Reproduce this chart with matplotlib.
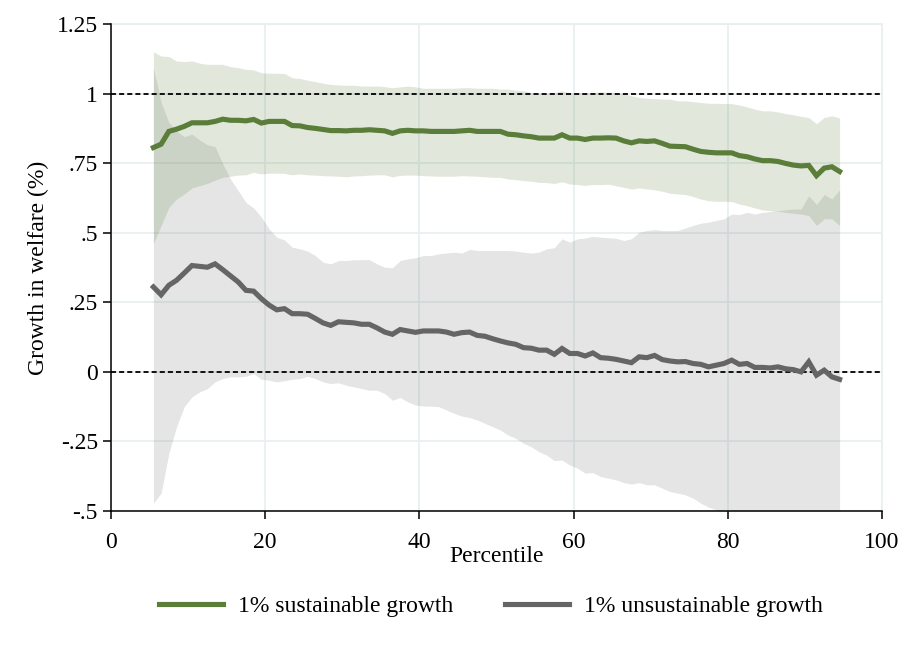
import numpy as np
import matplotlib
matplotlib.use("Agg")
import matplotlib.pyplot as plt
from matplotlib.lines import Line2D

# percentiles 5.5 ... 94.5
percentile = np.arange(5.5, 95.0, 1.0)

sust_mid = [
    0.806, 0.818, 0.864, 0.872, 0.882, 0.895, 0.895, 0.895, 0.900, 0.908,
    0.904, 0.904, 0.902, 0.907, 0.894, 0.900, 0.900, 0.900, 0.885, 0.884,
    0.878, 0.875, 0.871, 0.867, 0.867, 0.866, 0.868, 0.868, 0.870, 0.868,
    0.866, 0.857, 0.866, 0.868, 0.866, 0.866, 0.864, 0.864, 0.864, 0.864,
    0.866, 0.868, 0.864, 0.864, 0.864, 0.864, 0.854, 0.852, 0.848, 0.845,
    0.840, 0.840, 0.840, 0.852, 0.840, 0.840, 0.835, 0.840, 0.840, 0.841,
    0.840, 0.830, 0.823, 0.830, 0.828, 0.830, 0.821, 0.811, 0.810, 0.809,
    0.800, 0.792, 0.789, 0.787, 0.787, 0.787, 0.777, 0.773, 0.765, 0.759,
    0.759, 0.756, 0.749, 0.743, 0.740, 0.742, 0.705, 0.732, 0.737, 0.720,
]
sust_hi = [
    1.150, 1.135, 1.133, 1.117, 1.115, 1.117, 1.109, 1.105, 1.105, 1.105,
    1.097, 1.093, 1.087, 1.085, 1.075, 1.073, 1.073, 1.072, 1.057, 1.054,
    1.048, 1.043, 1.037, 1.033, 1.031, 1.030, 1.030, 1.027, 1.027, 1.027,
    1.025, 1.021, 1.024, 1.027, 1.024, 1.019, 1.019, 1.019, 1.019, 1.019,
    1.021, 1.021, 1.019, 1.019, 1.019, 1.016, 1.016, 1.012, 1.010, 1.004,
    1.001, 1.001, 1.004, 1.010, 1.002, 1.004, 1.002, 1.004, 1.006, 1.005,
    1.004, 1.000, 0.992, 0.986, 0.983, 0.982, 0.980, 0.980, 0.974, 0.974,
    0.971, 0.968, 0.965, 0.965, 0.964, 0.964, 0.959, 0.952, 0.944, 0.938,
    0.938, 0.934, 0.928, 0.924, 0.918, 0.914, 0.892, 0.914, 0.920, 0.912,
]
sust_lo = [
    0.460, 0.526, 0.591, 0.621, 0.639, 0.661, 0.669, 0.677, 0.689, 0.699,
    0.703, 0.707, 0.708, 0.717, 0.711, 0.714, 0.714, 0.713, 0.708, 0.711,
    0.708, 0.707, 0.705, 0.704, 0.703, 0.701, 0.704, 0.705, 0.707, 0.708,
    0.708, 0.701, 0.706, 0.707, 0.707, 0.705, 0.704, 0.703, 0.703, 0.703,
    0.705, 0.704, 0.703, 0.701, 0.699, 0.699, 0.693, 0.691, 0.687, 0.685,
    0.681, 0.680, 0.677, 0.683, 0.675, 0.673, 0.670, 0.673, 0.673, 0.674,
    0.669, 0.663, 0.657, 0.661, 0.657, 0.654, 0.649, 0.642, 0.639, 0.637,
    0.630, 0.621, 0.615, 0.613, 0.613, 0.612, 0.603, 0.597, 0.589, 0.582,
    0.579, 0.577, 0.573, 0.570, 0.567, 0.562, 0.526, 0.550, 0.550, 0.526,
]

unsust_mid = [
    0.305, 0.277, 0.311, 0.329, 0.355, 0.382, 0.379, 0.376, 0.388, 0.367,
    0.345, 0.323, 0.293, 0.290, 0.263, 0.240, 0.223, 0.227, 0.209, 0.209,
    0.207, 0.192, 0.176, 0.167, 0.180, 0.178, 0.176, 0.171, 0.171, 0.158,
    0.143, 0.135, 0.152, 0.147, 0.142, 0.147, 0.147, 0.147, 0.143, 0.135,
    0.141, 0.143, 0.131, 0.128, 0.119, 0.111, 0.104, 0.099, 0.087, 0.085,
    0.078, 0.078, 0.063, 0.084, 0.066, 0.066, 0.057, 0.068, 0.051, 0.049,
    0.045, 0.039, 0.033, 0.054, 0.051, 0.059, 0.044, 0.039, 0.036, 0.037,
    0.030, 0.027, 0.018, 0.024, 0.030, 0.042, 0.027, 0.030, 0.016, 0.016,
    0.014, 0.018, 0.011, 0.008, 0.000, 0.036, -0.012, 0.006, -0.018, -0.027,
]
unsust_hi = [
    1.093, 0.968, 0.896, 0.866, 0.845, 0.854, 0.833, 0.816, 0.809, 0.747,
    0.693, 0.651, 0.609, 0.589, 0.556, 0.514, 0.484, 0.474, 0.448, 0.442,
    0.434, 0.418, 0.394, 0.388, 0.400, 0.400, 0.403, 0.403, 0.403, 0.388,
    0.376, 0.374, 0.400, 0.406, 0.410, 0.418, 0.418, 0.424, 0.427, 0.430,
    0.427, 0.440, 0.436, 0.436, 0.436, 0.436, 0.436, 0.434, 0.430, 0.427,
    0.430, 0.442, 0.446, 0.478, 0.466, 0.478, 0.481, 0.487, 0.484, 0.482,
    0.480, 0.472, 0.478, 0.502, 0.508, 0.511, 0.508, 0.508, 0.508, 0.517,
    0.526, 0.534, 0.538, 0.544, 0.550, 0.567, 0.565, 0.573, 0.567, 0.573,
    0.576, 0.579, 0.582, 0.585, 0.585, 0.633, 0.601, 0.637, 0.621, 0.654,
]
# past ~p78 the lower bound runs off the bottom of the axis
unsust_lo = [
    -0.472, -0.436, -0.293, -0.197, -0.125, -0.090, -0.072, -0.060, -0.036, -0.024,
    -0.018, -0.018, -0.016, -0.006, -0.027, -0.030, -0.036, -0.032, -0.027, -0.024,
    -0.016, -0.024, -0.036, -0.042, -0.039, -0.048, -0.054, -0.060, -0.066, -0.066,
    -0.078, -0.102, -0.092, -0.108, -0.119, -0.123, -0.123, -0.125, -0.137, -0.149,
    -0.159, -0.164, -0.173, -0.185, -0.197, -0.209, -0.227, -0.239, -0.257, -0.269,
    -0.287, -0.299, -0.319, -0.317, -0.335, -0.346, -0.364, -0.362, -0.376, -0.382,
    -0.388, -0.398, -0.403, -0.398, -0.406, -0.406, -0.418, -0.430, -0.436, -0.442,
    -0.454, -0.472, -0.486, -0.496, -0.512, -0.521, -0.535, -0.541, -0.556, -0.562,
    -0.571, -0.583, -0.592, -0.604, -0.611, -0.622, -0.633, -0.640, -0.652, -0.661,
]

xticks = [0, 20, 40, 60, 80, 100]
yticks = [-0.5, -0.25, 0, 0.25, 0.5, 0.75, 1, 1.25]
ytick_labels = ["-.5", "-.25", "0", ".25", ".5", ".75", "1", "1.25"]

GREEN = "#5a7d3a"
GREY = "#656565"
GRID = "#e8eff1"

plt.rcParams["font.family"] = ["Liberation Serif", "DejaVu Serif"]
FS = 17

fig = plt.figure(figsize=(9.07, 6.60), dpi=100)
ax = fig.add_axes([111 / 907, 1 - 511 / 660, 771 / 907, 487 / 660])

ax.fill_between(percentile, unsust_lo, unsust_hi, color=GREY, alpha=0.17, lw=0)
ax.fill_between(percentile, sust_lo, sust_hi, color=GREEN, alpha=0.18, lw=0)

ax.axhline(1, color="black", lw=1.3, ls=(0, (2.8, 1.7)), zorder=2)
ax.axhline(0, color="black", lw=1.3, ls=(0, (2.8, 1.7)), zorder=2)

ax.plot(percentile, sust_mid, color=GREEN, lw=3.7, solid_joinstyle="miter", zorder=3)
ax.plot(percentile, unsust_mid, color=GREY, lw=3.7, solid_joinstyle="miter", zorder=3)

ax.set_xlim(0, 100)
ax.set_ylim(-0.5, 1.25)
ax.set_xticks(xticks)
ax.set_yticks(yticks)
ax.set_yticklabels(ytick_labels)
ax.grid(True, color=GRID, lw=1.2, zorder=0)
ax.set_axisbelow(True)

for s in ["top", "right"]:
    ax.spines[s].set_visible(False)
for s in ["left", "bottom"]:
    ax.spines[s].set_linewidth(1.1)
ax.tick_params(axis="both", labelsize=FS, length=6, width=1.1, direction="out")
ax.tick_params(axis="x", pad=9)
ax.tick_params(axis="y", pad=3.5)

# top / right edge are plain grid lines
ax.axhline(1.25, color=GRID, lw=1.2, zorder=0, clip_on=False)
ax.axvline(100, color=GRID, lw=1.2, zorder=0, clip_on=False)

ax.set_xlabel("Percentile", fontsize=FS, va="center")
ax.xaxis.set_label_coords(0.5, (511 - 557) / 487)
ax.set_ylabel("Growth in welfare (%)", fontsize=FS, va="center")
ax.yaxis.set_label_coords((38 - 111) / 771, 0.5)

handles = [
    Line2D([], [], color=GREEN, lw=3.7),
    Line2D([], [], color=GREY, lw=3.7),
]
fig.legend(handles, ["1% sustainable growth", "1% unsustainable growth"],
           loc="center", bbox_to_anchor=(491 / 907, 1 - 606 / 660), ncol=2,
           frameon=False, fontsize=FS, handlelength=2.7, handletextpad=0.65,
           columnspacing=2.2)

fig.savefig("out.png", dpi=100)
